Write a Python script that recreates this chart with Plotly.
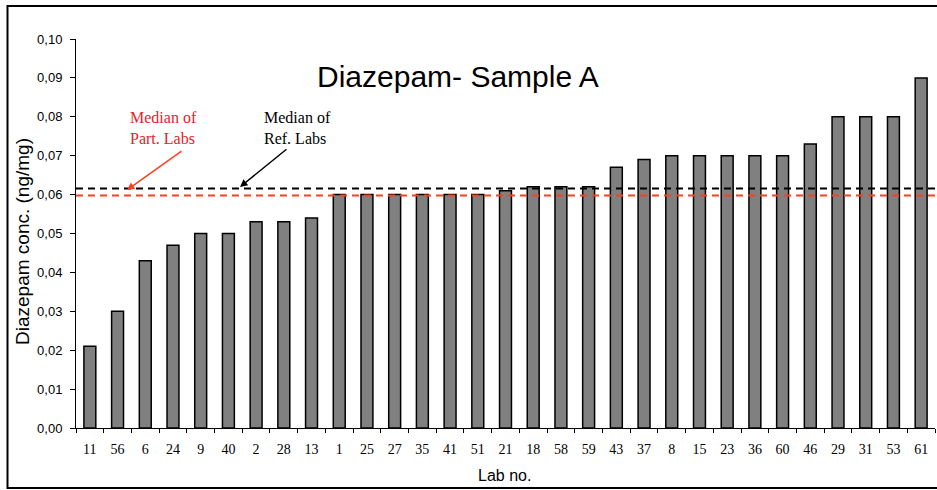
import plotly.graph_objects as go

labs = ["11", "56", "6", "24", "9", "40", "2", "28", "13", "1", "25", "27", "35", "41", "51",
        "21", "18", "58", "59", "43", "37", "8", "15", "23", "36", "60", "46", "29", "31", "53", "61"]
conc = [0.021, 0.030, 0.043, 0.047, 0.050, 0.050, 0.053, 0.053, 0.054, 0.060, 0.060, 0.060,
        0.060, 0.060, 0.060, 0.061, 0.062, 0.062, 0.062, 0.067, 0.069, 0.070, 0.070, 0.070,
        0.070, 0.070, 0.073, 0.080, 0.080, 0.080, 0.090]
median_ref = 0.0616
median_part = 0.0598
y_ticks = [0.00, 0.01, 0.02, 0.03, 0.04, 0.05, 0.06, 0.07, 0.08, 0.09, 0.10]
y_tick_text = ["0,00", "0,01", "0,02", "0,03", "0,04", "0,05", "0,06", "0,07", "0,08", "0,09", "0,10"]

W, H = 937, 490
L, R, T, B = 76, 2, 39, 62
pw, ph = W - L - R, H - T - B


def px(x):
    return (x - L) / pw


def py(y):
    return (H - B - y) / ph


fig = go.Figure()
fig.add_trace(go.Bar(
    x=labs, y=conc,
    marker=dict(color="#808080", line=dict(color="black", width=1.5)),
    showlegend=False, hoverinfo="x+y",
))

fig.add_shape(type="line", xref="paper", yref="y", x0=0, x1=1, y0=median_ref, y1=median_ref,
              line=dict(color="black", width=2, dash="7px,5px"))
fig.add_shape(type="line", xref="paper", yref="y", x0=0, x1=1, y0=median_part, y1=median_part,
              line=dict(color="#FF3D1F", width=2, dash="7px,5px"))

# outer frame
fig.add_shape(type="rect", xref="paper", yref="paper",
              x0=px(7.5), x1=px(945), y0=py(488), y1=py(6),
              line=dict(color="black", width=2), fillcolor="rgba(0,0,0,0)")

annotations = [
    dict(text="Diazepam- Sample A", x=px(458), y=py(77), xref="paper", yref="paper",
         showarrow=False, font=dict(family="Liberation Sans, Arial", size=30, color="black"),
         xanchor="center", yanchor="middle"),
    dict(text="Median of<br>Part. Labs", x=px(128), y=py(128), xref="paper", yref="paper",
         showarrow=False, align="left", xanchor="left", yanchor="middle",
         font=dict(family="Liberation Serif, Times New Roman", size=16, color="#E8202A")),
    dict(text="Median of<br>Ref. Labs", x=px(262), y=py(128), xref="paper", yref="paper",
         showarrow=False, align="left", xanchor="left", yanchor="middle",
         font=dict(family="Liberation Serif, Times New Roman", size=16, color="black")),
    dict(text="", x=px(127), y=py(190), xref="paper", yref="paper", showarrow=True,
         ax=56, ay=-40, arrowhead=2, arrowsize=1, arrowwidth=1.5, arrowcolor="#FF3D1F"),
    dict(text="", x=px(240), y=py(187), xref="paper", yref="paper", showarrow=True,
         ax=48, ay=-39, arrowhead=2, arrowsize=1, arrowwidth=1.5, arrowcolor="black"),
    dict(text="Diazepam conc. (ng/mg)", x=px(23), y=py(242), xref="paper", yref="paper",
         showarrow=False, textangle=-90, xanchor="center", yanchor="middle",
         font=dict(family="Liberation Sans, Arial", size=19, color="black")),
    dict(text="Lab no.", x=px(504), y=py(475), xref="paper", yref="paper",
         showarrow=False, xanchor="center", yanchor="middle",
         font=dict(family="Liberation Sans, Arial", size=16, color="black")),
]

fig.update_layout(
    width=W, height=H,
    margin=dict(l=L, r=R, t=T, b=B, pad=0),
    paper_bgcolor="white", plot_bgcolor="white",
    bargap=0.57,
    annotations=annotations,
    xaxis=dict(
        type="category", showline=True, linecolor="black", linewidth=1,
        ticks="outside", tickson="boundaries", ticklen=4, tickcolor="black",
        showgrid=False, zeroline=False, ticklabelstandoff=8,
        tickfont=dict(family="Liberation Serif, Times New Roman", size=14, color="black"),
    ),
    yaxis=dict(
        range=[0, 0.10], tickvals=y_ticks, ticktext=y_tick_text,
        showline=True, linecolor="black", linewidth=1,
        ticks="outside", ticklen=5, tickcolor="black",
        showgrid=False, zeroline=False, ticklabelstandoff=5,
        tickfont=dict(family="Liberation Sans, Arial", size=13, color="black"),
    ),
)

fig.write_html("out.html", config={"displayModeBar": False},
               post_script="document.body.style.margin='0';document.body.style.padding='0';")
